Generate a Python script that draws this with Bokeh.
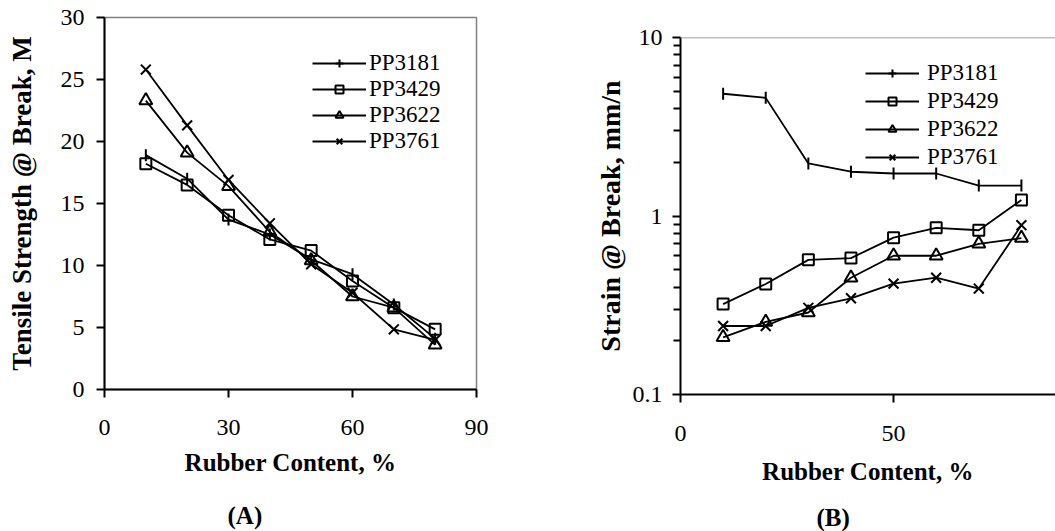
import math
from bokeh.plotting import figure
from bokeh.layouts import row
from bokeh.models import (FixedTicker, Legend, LegendItem, Span, Title,
                          CustomJSTickFormatter, Range1d)
from bokeh.embed import file_html
from bokeh.resources import INLINE

# ---------------- data ----------------
rubber = [10, 20, 30, 40, 50, 60, 70, 80]
series_names = ["PP3181", "PP3429", "PP3622", "PP3761"]

tensile_pp3181 = [18.9, 17.0, 13.7, 12.5, 10.5, 9.3, 6.85, 4.1]
tensile_pp3429 = [18.2, 16.5, 14.05, 12.1, 11.2, 8.75, 6.6, 4.85]
tensile_pp3622 = [23.3, 19.1, 16.4, 12.7, 10.4, 7.5, 6.6, 3.6]
tensile_pp3761 = [25.8, 21.3, 16.9, 13.4, 10.1, 7.8, 4.85, 4.0]

strain_pp3181 = [4.84, 4.59, 1.97, 1.77, 1.73, 1.73, 1.48, 1.48]
strain_pp3429 = [0.321, 0.416, 0.568, 0.581, 0.756, 0.858, 0.832, 1.23]
strain_pp3622 = [0.209, 0.255, 0.288, 0.451, 0.599, 0.599, 0.698, 0.752]
strain_pp3761 = [0.242, 0.242, 0.306, 0.346, 0.418, 0.451, 0.392, 0.888]

tensile_ticks_x = [0, 30, 60, 90]
tensile_ticks_y = [0, 5, 10, 15, 20, 25, 30]
strain_ticks_x = [0, 50, 100]
strain_ticks_y = [0.1, 1, 10]
strain_minor_y = [0.2, 0.3, 0.4, 0.5, 0.6, 0.7, 0.8, 0.9, 2, 3, 4, 5, 6, 7, 8, 9]

SERIF = "Liberation Serif"
markers = [("dash", 12, math.pi / 2), ("square", 11, 0), ("triangle", 13, 0), ("x", 14, 0)]


def style_axes(p, ylab_size="27px"):
    for ax in (p.xaxis[0], p.yaxis[0]):
        ax.axis_line_color = "black"
        ax.axis_line_width = 2
        ax.major_tick_line_color = "black"
        ax.major_tick_line_width = 2
        ax.major_tick_in = 0
        ax.major_tick_out = 8
        ax.minor_tick_line_color = None
        ax.major_label_text_font = SERIF
        ax.major_label_text_font_size = "24px"
        ax.major_label_text_color = "black"
        ax.axis_label_text_font = SERIF
        ax.axis_label_text_font_style = "bold"
        ax.axis_label_text_color = "black"
    p.xaxis[0].axis_label_text_font_size = "25px"
    p.yaxis[0].axis_label_text_font_size = ylab_size
    p.xgrid.grid_line_color = None
    p.ygrid.grid_line_color = None


def add_series(p, ys_list):
    items = []
    for i, (name, ys, (mk, sz, ang)) in enumerate(zip(series_names, ys_list, markers)):
        ln = p.line(rubber, ys, line_color="black", line_width=1.8)
        sc = p.scatter(rubber, ys, marker=mk, size=sz, angle=ang,
                       line_color="black", line_width=2, fill_color=None)
        if mk == "dash":
            # legend swatch: a "+" drawn only in the legend (size 0 in the plot)
            proxy = p.scatter(rubber, ys, marker="cross", size=0,
                              line_color="black", line_width=2)
            items.append(LegendItem(label=name, renderers=[ln, proxy]))
        else:
            items.append(LegendItem(label=name, renderers=[ln, sc]))
    return items


def make_legend(items, loc, spacing, standoff):
    lg = Legend(items=items, location=loc, orientation="vertical",
                glyph_width=54, glyph_height=20, label_height=20,
                label_standoff=standoff, spacing=spacing, padding=0, margin=0,
                border_line_color=None, background_fill_alpha=0,
                label_text_font=SERIF, label_text_font_size="23px",
                label_text_color="black")
    return lg


def caption(text, offset, standoff):
    return Title(text=text, align="left", offset=offset, standoff=standoff,
                 text_font=SERIF, text_font_style="bold", text_font_size="25px",
                 text_color="black")


# ---------------- (A) tensile strength ----------------
p1 = figure(frame_width=372, frame_height=372, output_backend="svg", toolbar_location=None,
            x_range=Range1d(0, 90), y_range=Range1d(0, 30),
            min_border_left=104, min_border_right=64,
            min_border_top=17, min_border_bottom=142)
p1.frame_align = False
p1.outline_line_color = "#808080"
p1.outline_line_width = 1.5
p1.xaxis.ticker = FixedTicker(ticks=tensile_ticks_x)
p1.yaxis.ticker = FixedTicker(ticks=tensile_ticks_y)
p1.xaxis.axis_label = "Rubber Content, %"
p1.yaxis.axis_label = "Tensile Strength @ Break, M"
style_axes(p1)
p1.xaxis.major_label_standoff = 22
p1.xaxis.axis_label_standoff = 11
p1.yaxis.major_label_standoff = 12
p1.yaxis.axis_label_standoff = 21
items1 = add_series(p1, [tensile_pp3181, tensile_pp3429, tensile_pp3622, tensile_pp3761])
p1.add_layout(make_legend(items1, (208, 235), 0, 3))
p1.add_layout(caption("(A)", 123, 43), "below")

# ---------------- (B) strain ----------------
p2 = figure(frame_width=375, frame_height=357, output_backend="svg", toolbar_location=None,
            x_range=Range1d(0, 88), y_range=Range1d(0.1, 10), y_axis_type="log",
            min_border_left=140, min_border_right=0,
            min_border_top=37, min_border_bottom=137)
p2.frame_align = False
p2.outline_line_color = None
p2.xaxis.ticker = FixedTicker(ticks=strain_ticks_x)
p2.yaxis.ticker = FixedTicker(ticks=strain_ticks_y, minor_ticks=strain_minor_y)
p2.yaxis.formatter = CustomJSTickFormatter(code="return String(tick);")
p2.xaxis.axis_label = "Rubber Content, %"
p2.yaxis.axis_label = "Strain @ Break, mm/n"
style_axes(p2, "28px")
p2.yaxis.minor_tick_line_color = "black"
p2.yaxis.minor_tick_line_width = 2
p2.yaxis.minor_tick_in = 0
p2.yaxis.minor_tick_out = 7
p2.xaxis.major_label_standoff = 23
p2.xaxis.axis_label_standoff = 14
p2.yaxis.major_label_standoff = 10
p2.yaxis.axis_label_standoff = 4
p2.add_layout(Span(location=10, dimension="width", line_color="#808080", line_width=1.5))
items2 = add_series(p2, [strain_pp3181, strain_pp3429, strain_pp3622, strain_pp3761])
p2.add_layout(make_legend(items2, (185, 224), 2, 8))
p2.add_layout(caption("(B)", 136, 28), "below")

layout = row(p1, p2)
open("out.html", "w").write(file_html(layout, INLINE))
